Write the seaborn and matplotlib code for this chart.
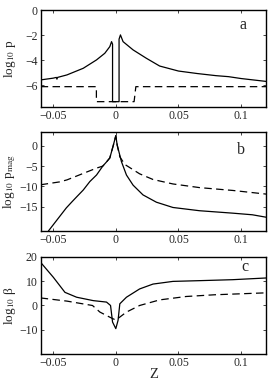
import numpy as np
import pandas as pd
import matplotlib
matplotlib.use("Agg")
import matplotlib.pyplot as plt
import seaborn as sns

# panel a: log10 p
z_a_solid = [-0.06, -0.05, -0.0475, -0.047, -0.0465, -0.039, -0.026, -0.0154, -0.0088,
             -0.0048, -0.0034, -0.0026, -0.0026, 0.0026, 0.0026, 0.0037, 0.0058,
             0.0138, 0.0244, 0.035, 0.05, 0.065, 0.08, 0.09, 0.1, 0.12]
p_a_solid = [-5.56, -5.42, -5.36, -5.5, -5.36, -5.16, -4.63, -3.96, -3.43,
             -2.9, -2.5, -2.7, -7.3, -7.3, -2.3, -1.96, -2.5,
             -3.16, -3.83, -4.45, -4.85, -5.05, -5.22, -5.3, -5.45, -5.68]
z_a_dash = [-0.06, -0.0155, -0.0155, 0.0146, 0.016, 0.12]
p_a_dash = [-6.1, -6.1, -7.3, -7.3, -6.1, -6.1]

# panel b: log10 p_mag
z_b_solid = [-0.0538, -0.0395, -0.035, -0.031, -0.026, -0.0207, -0.0154, -0.0104,
             -0.0075, -0.0048, -0.0021, 0.0, 0.0011, 0.0045, 0.0085, 0.0138,
             0.0217, 0.0324, 0.0456, 0.0668, 0.0933, 0.109, 0.12]
p_b_solid = [-21.0, -15.3, -13.8, -12.5, -10.9, -8.8, -7.2, -5.0,
             -4.0, -3.0, 0.0, 2.5, 0.2, -3.9, -7.2, -9.7,
             -12.1, -13.9, -15.2, -16.0, -16.6, -17.0, -17.6]
z_b_dash = [-0.06, -0.045, -0.039, -0.026, -0.0154, -0.0104, -0.0075, -0.0048, -0.0021, 0.0,
            0.0011, 0.0032, 0.0072, 0.019, 0.0297, 0.0456, 0.0668, 0.0933, 0.12]
p_b_dash = [-9.6, -8.9, -8.4, -6.8, -5.5, -5.0, -4.0, -3.0, 0.0, 2.5,
            0.2, -2.7, -4.6, -6.9, -8.3, -9.4, -10.3, -11.0, -11.9]

# panel c: log10 beta
z_c_solid = [-0.06, -0.0499, -0.0406, -0.0313, -0.018, -0.0074, -0.0042, -0.0026,
             0.0, 0.0018, 0.0032, 0.0085, 0.019, 0.0297, 0.0456, 0.0668, 0.0933, 0.12]
b_c_solid = [17.7, 11.6, 5.4, 3.4, 2.0, 1.4, 0.0, -6.8,
             -9.5, -6.1, 0.7, 3.4, 6.8, 8.8, 9.9, 10.2, 10.6, 11.3]
z_c_dash = [-0.06, -0.039, -0.0186, -0.0127, -0.0048, 0.0, 0.0085, 0.019,
            0.035, 0.0562, 0.0787, 0.12]
b_c_dash = [3.1, 1.8, 0.0, -2.7, -4.8, -6.0, -2.7, 0.0,
            2.3, 3.7, 4.4, 5.2]

sns.set_style("ticks")
plt.rcParams["font.family"] = ["Liberation Serif", "DejaVu Serif"]
plt.rcParams["mathtext.fontset"] = "stix"
plt.rcParams["xtick.direction"] = "in"
plt.rcParams["ytick.direction"] = "in"
plt.rcParams["xtick.top"] = True
plt.rcParams["ytick.right"] = True

fig = plt.figure(figsize=(2.71, 3.85), dpi=100)
left, width = 0.150, 0.832
ax_a = fig.add_axes([left, 0.721, width, 0.252])
ax_b = fig.add_axes([left, 0.400, width, 0.256])
ax_c = fig.add_axes([left, 0.080, width, 0.253])

panels = [
    (ax_a, z_a_solid, p_a_solid, z_a_dash, p_a_dash, "log$_{10}$ p", "a",
     (-7.76, 0), [0, -2, -4, -6], (0.898, 0.85)),
    (ax_b, z_b_solid, p_b_solid, z_b_dash, p_b_dash, "log$_{10}$ p$_{\\mathrm{mag}}$", "b",
     (-21, 3.3), [0, -5, -10, -15], (0.888, 0.82)),
    (ax_c, z_c_solid, b_c_solid, z_c_dash, b_c_dash, "log$_{10}$ \u03b2", "c",
     (-20, 20), [20, 10, 0, -10], (0.907, 0.90)),
]

for ax, zs, ys, zd, yd, ylab, letter, ylim, yticks, lpos in panels:
    sol = pd.DataFrame({"z": zs, "v": ys})
    das = pd.DataFrame({"z": zd, "v": yd})
    sns.lineplot(data=sol, x="z", y="v", ax=ax, color="black", lw=0.9,
                 sort=False, estimator=None)
    sns.lineplot(data=das, x="z", y="v", ax=ax, color="black", lw=0.9,
                 sort=False, estimator=None, linestyle=(0, (6, 3.5)))
    ax.set_xlim(-0.06, 0.12)
    ax.set_ylim(*ylim)
    ax.set_yticks(yticks)
    ax.set_yticklabels([str(t).replace("-", "\u2212") for t in yticks])
    ax.set_xticks([-0.05, 0, 0.05, 0.1])
    ax.set_xticklabels(["\u22120.05", "0", "0.05", "0.1"])
    ax.set_ylabel(ylab, fontsize=9.5)
    ax.yaxis.set_label_coords(-0.102, 0.5)
    ax.set_xlabel("")
    ax.text(lpos[0], lpos[1], letter, transform=ax.transAxes, fontsize=11.5,
            ha="center", va="center")
    for s in ax.spines.values():
        s.set_linewidth(1.0)
        s.set_color("black")
    ax.tick_params(length=2, width=0.6, pad=2, labelsize=8.5)

ax_c.set_xlabel("Z", fontsize=10.5, labelpad=-1)

fig.savefig("out.png", dpi=100)
